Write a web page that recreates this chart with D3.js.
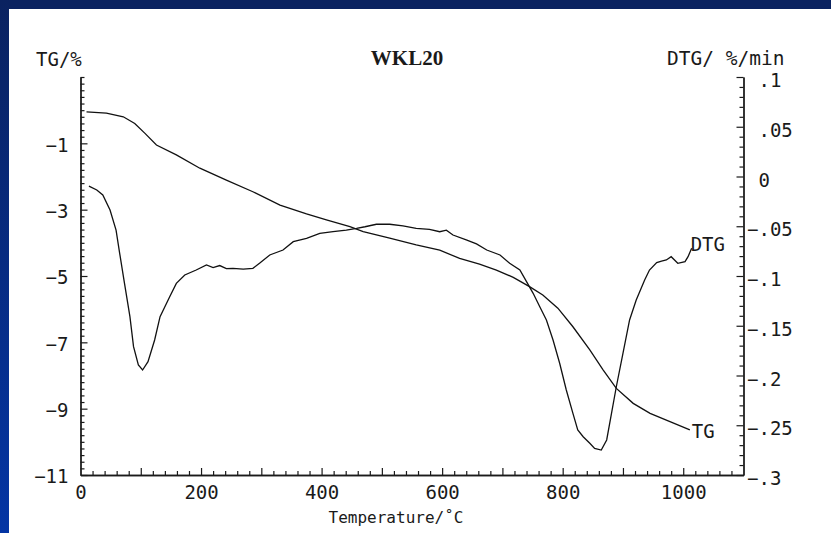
<!DOCTYPE html>
<html>
<head>
<meta charset="utf-8">
<script src="https://cdn.jsdelivr.net/npm/d3@7"></script>
<style>
  html, body { margin: 0; padding: 0; background: #fff; }
  svg { display: block; }
  text { font-family: "DejaVu Sans Mono", monospace; fill: #1a1a1a; }
</style>
</head>
<body>
<script>
// Thermogravimetric run of sample WKL20: mass loss (TG) and its derivative (DTG)
const tgTemp = [10, 43, 71, 90, 107, 126, 159, 198, 242, 286, 331, 375, 408, 447, 469, 513, 557, 596, 629, 662, 690, 718, 745, 767, 792, 817, 845, 867, 889, 917, 945, 978, 1011];
const tgValue = [-0.05, -0.09, -0.20, -0.40, -0.70, -1.05, -1.35, -1.75, -2.11, -2.46, -2.86, -3.13, -3.31, -3.51, -3.66, -3.86, -4.06, -4.22, -4.47, -4.64, -4.82, -5.04, -5.32, -5.57, -5.97, -6.53, -7.23, -7.83, -8.39, -8.84, -9.14, -9.39, -9.64];

const dtgTemp = [14, 27, 37, 49, 59, 65, 73, 82, 88, 96, 103, 112, 123, 132, 148, 159, 173, 192, 209, 220, 231, 242, 253, 270, 286, 297, 314, 336, 353, 375, 397, 419, 441, 458, 472, 491, 513, 535, 557, 579, 596, 607, 618, 640, 657, 674, 696, 712, 729, 740, 751, 762, 773, 784, 795, 806, 817, 825, 834, 845, 853, 864, 873, 881, 889, 900, 911, 922, 936, 944, 956, 964, 972, 980, 991, 1003, 1008, 1014];
const dtgValue = [-0.0096, -0.0136, -0.0186, -0.0337, -0.0538, -0.0772, -0.1074, -0.1409, -0.1710, -0.1894, -0.1945, -0.1861, -0.1643, -0.1409, -0.1208, -0.1074, -0.0990, -0.0940, -0.0889, -0.0915, -0.0895, -0.0925, -0.0923, -0.0930, -0.0923, -0.0872, -0.0789, -0.0739, -0.0655, -0.0621, -0.0571, -0.0555, -0.0538, -0.0521, -0.0505, -0.0480, -0.0480, -0.0497, -0.0521, -0.0531, -0.0555, -0.0540, -0.0588, -0.0638, -0.0678, -0.0739, -0.0789, -0.0872, -0.0940, -0.1057, -0.1174, -0.1309, -0.1442, -0.1643, -0.1877, -0.2146, -0.2380, -0.2548, -0.2615, -0.2681, -0.2732, -0.2749, -0.2648, -0.2380, -0.2113, -0.1777, -0.1442, -0.1241, -0.1040, -0.0940, -0.0866, -0.0850, -0.0839, -0.0806, -0.0872, -0.0856, -0.0806, -0.0722];

const xTickLabels = [0, 200, 400, 600, 800, 1000];
const tgTickLabels = [-1, -3, -5, -7, -9, -11];
const dtgTickLabels = [0.1, 0.05, 0, -0.05, -0.1, -0.15, -0.2, -0.25, -0.3];

const W = 831, H = 533;
const svg = d3.select("body").append("svg").attr("width", W).attr("height", H);

// slide frame: dark band on top, blue gradient band on the left
const defs = svg.append("defs");
const grad = defs.append("linearGradient").attr("id", "sideBand")
  .attr("x1", 0).attr("y1", 0).attr("x2", 0).attr("y2", 1);
grad.append("stop").attr("offset", "0%").attr("stop-color", "#0a2260");
grad.append("stop").attr("offset", "100%").attr("stop-color", "#0435a4");
svg.append("rect").attr("x", 0).attr("y", 0).attr("width", W).attr("height", 9).attr("fill", "#0a2260");
svg.append("rect").attr("x", 0).attr("y", 0).attr("width", 9).attr("height", H).attr("fill", "url(#sideBand)");

const x = d3.scaleLinear().domain([0, 1100]).range([80.5, 743.5]);
const yTG = d3.scaleLinear().domain([-11, 1]).range([475, 77]);
const yDTG = d3.scaleLinear().domain([-0.3, 0.1]).range([475, 77]);

function styleAxis(g) {
  g.selectAll("path.domain").attr("stroke", "#1a1a1a").attr("stroke-width", 1.3);
  g.selectAll(".tick line").attr("stroke", "#1a1a1a").attr("stroke-width", 1.2);
  g.selectAll(".tick text").attr("font-size", 19).attr("font-family", null);
  g.attr("font-family", null).attr("font-size", null);
}

// bottom axis: minor every 20, medium every 100, labels every 200
const xMinor = d3.range(20, 1100, 20).filter(v => v % 100 !== 0);
const xMid = d3.range(100, 1100, 100);
svg.append("g").attr("transform", `translate(0,${yTG.range()[0]})`)
  .call(d3.axisBottom(x).tickValues(xMinor).tickSize(-4).tickSizeOuter(0).tickFormat(""))
  .call(styleAxis);
svg.append("g").attr("transform", `translate(0,${yTG.range()[0]})`)
  .call(d3.axisBottom(x).tickValues(xMid).tickSize(-7).tickSizeOuter(0).tickFormat(""))
  .call(styleAxis);
svg.append("g").attr("transform", `translate(0,${yTG.range()[0]})`)
  .call(d3.axisBottom(x).tickValues(xTickLabels).tickSize(0).tickSizeOuter(0).tickPadding(10.5).tickFormat(d3.format("d")))
  .call(styleAxis)
  .call(g => g.select("path.domain").remove());

// left TG axis
const tgMinor = d3.range(-55, 6, 1).map(v => v / 5).filter(v => !tgTickLabels.includes(v));
svg.append("g").attr("transform", `translate(${x.range()[0]},0)`)
  .call(d3.axisLeft(yTG).tickValues(tgMinor).tickSize(-4).tickSizeOuter(0).tickFormat(""))
  .call(styleAxis);
svg.append("g").attr("transform", `translate(${x.range()[0]},0)`)
  .call(d3.axisLeft(yTG).tickValues(tgTickLabels).tickSize(-7).tickSizeOuter(0).tickPadding(12)
    .tickFormat(v => "\u2212" + Math.abs(v)))
  .call(styleAxis)
  .call(g => g.selectAll(".tick text").attr("dy", "0.42em"));

// right DTG axis
const dtgMinor = d3.range(-30, 11, 1).map(v => v / 100).filter(v => Math.abs(Math.round(v * 100)) % 5 !== 0);
const fmtDTG = v => {
  if (v === 0) return " 0";
  const s = String(Math.abs(v)).replace(/^0/, "");
  return (v < 0 ? "\u2212" : " ") + s;
};
svg.append("g").attr("transform", `translate(${x.range()[1]},0)`)
  .call(d3.axisRight(yDTG).tickValues(dtgMinor).tickSize(-4).tickSizeOuter(0).tickFormat(""))
  .call(styleAxis);
svg.append("g").attr("transform", `translate(${x.range()[1]},0)`)
  .call(d3.axisRight(yDTG).tickValues(dtgTickLabels).tickSize(-7).tickSizeOuter(0).tickPadding(3.5).tickFormat(fmtDTG))
  .call(styleAxis)
  .call(g => g.selectAll(".tick text").attr("dy", "0.5em").style("white-space", "pre"));

// curves
const tgData = tgTemp.map((t, i) => [t, tgValue[i]]);
const dtgData = dtgTemp.map((t, i) => [t, dtgValue[i]]);
svg.append("path").datum(tgData)
  .attr("fill", "none").attr("stroke", "#111").attr("stroke-width", 1.3)
  .attr("d", d3.line().x(d => x(d[0])).y(d => yTG(d[1])));
svg.append("path").datum(dtgData)
  .attr("fill", "none").attr("stroke", "#111").attr("stroke-width", 1.3)
  .attr("d", d3.line().x(d => x(d[0])).y(d => yDTG(d[1])));

// curve labels at line ends
const tgEnd = tgData[tgData.length - 1];
const dtgEnd = dtgData[dtgData.length - 1];
svg.append("text").attr("x", x(tgEnd[0]) + 2).attr("y", yTG(tgEnd[1]) + 8)
  .attr("font-size", 19).text("TG");
svg.append("text").attr("x", x(dtgEnd[0]) - 1).attr("y", yDTG(dtgEnd[1]) + 3)
  .attr("font-size", 19).text("DTG");

// titles
svg.append("text").attr("x", 36).attr("y", 66).attr("font-size", 19).text("TG/%");
svg.append("text").attr("x", 667).attr("y", 65).attr("font-size", 19.5).style("white-space", "pre").text("DTG/ %/min");
svg.append("text").attr("x", 407).attr("y", 65).attr("text-anchor", "middle")
  .style("font-family", "'Liberation Serif', 'Times New Roman', serif")
  .attr("font-weight", "bold").attr("font-size", 21).text("WKL20");
svg.append("text").attr("x", 396).attr("y", 523).attr("text-anchor", "middle")
  .attr("font-size", 16).text("Temperature/\u02DAC");
</script>
</body>
</html>
